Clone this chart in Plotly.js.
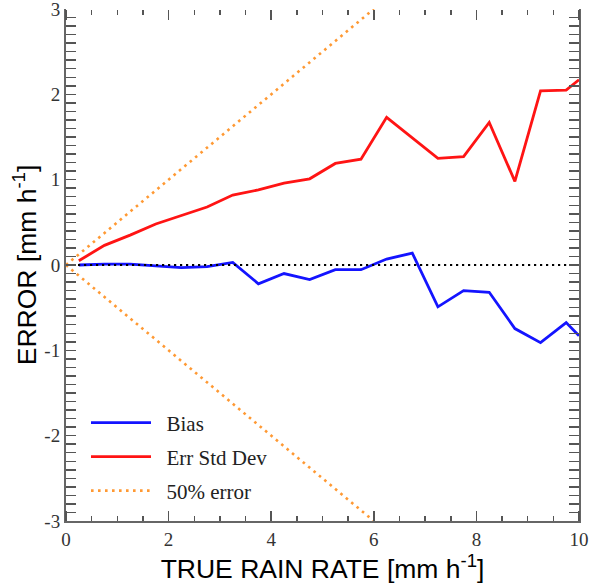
<!DOCTYPE html>
<html>
<head>
<meta charset="utf-8">
<script src="https://cdn.plot.ly/plotly-3.0.1.min.js"></script>
<style>html,body{margin:0;padding:0;background:#fff;}#chart{width:596px;height:584px;}</style>
</head>
<body>
<div id="chart"></div>
<script>
// ---- data ----
const rainRate = [0.25, 0.75, 1.25, 1.75, 2.25, 2.75, 3.25, 3.75, 4.25, 4.75, 5.25, 5.75, 6.25, 6.75, 7.25, 7.75, 8.25, 8.75, 9.25, 9.75, 10.0];
const bias     = [0.00, 0.01, 0.01, -0.01, -0.03, -0.02, 0.03, -0.22, -0.10, -0.17, -0.055, -0.055, 0.07, 0.14, -0.49, -0.30, -0.32, -0.745, -0.91, -0.675, -0.83];
const errStd   = [0.05, 0.23, 0.35, 0.48, 0.58, 0.68, 0.82, 0.88, 0.96, 1.01, 1.19, 1.24, 1.73, 1.49, 1.25, 1.27, 1.67, 0.98, 2.04, 2.05, 2.17];
const halfErrX = [0, 6, null, 0, 6];
const halfErrY = [0, 3, null, 0, -3];
const zeroX = [0, 10];
const zeroY = [0, 0];
const yTickVals = [-3, -2, -1, 0, 1, 2, 3];
const yTickText = ['-3', '-2', '-1', '0', '1', '2', '3'];
const seriesNames = ['Bias', 'Err Std Dev', '50% error'];

// ---- layout helpers ----
const W = 596, H = 584;
const M = {l: 66, r: 17, t: 9, b: 63};
const pw = W - M.l - M.r, ph = H - M.t - M.b;
const px2x = p => (p - M.l) / pw;
const py2y = p => 1 - (p - M.t) / ph;
const pad = '\u00a0\u00a0';

const legFont = {family: '"Liberation Serif", "Times New Roman", serif', size: 21, color: '#222'};
function leg(xp, yp) {
  return {x: px2x(xp), y: py2y(yp), xanchor: 'left', yanchor: 'middle', bgcolor: 'rgba(0,0,0,0)',
          borderwidth: 0, font: legFont, itemwidth: 60};
}

const traces = [
  {x: rainRate, y: bias, name: pad + seriesNames[0], mode: 'lines', line: {color: '#1414ff', width: 2.8}, legend: 'legend'},
  {x: rainRate, y: errStd, name: pad + seriesNames[1], mode: 'lines', line: {color: '#ff1414', width: 2.8}, legend: 'legend2'},
  {x: halfErrX, y: halfErrY, xaxis: 'x3', name: pad + seriesNames[2], mode: 'lines', line: {color: '#ff9933', width: 2.6, dash: '2.6px,4.4px'}, legend: 'legend3', connectgaps: false},
  {x: zeroX, y: zeroY, xaxis: 'x2', name: 'zero', mode: 'lines', line: {color: '#000', width: 2.2, dash: '2.2px,3.8px'}, showlegend: false, hoverinfo: 'skip'}
];

const tickFont = {family: '"Liberation Serif", "Times New Roman", serif', size: 19, color: '#333'};
const titleFont = {family: '"Liberation Sans", Arial, sans-serif', size: 26.5, color: '#000'};
const xMinor = {dtick: 0.5, ticks: 'outside', ticklen: 5, tickwidth: 1.5, tickcolor: '#555'};
const tickAxis = (side, pos) => ({
  overlaying: 'x', matches: 'x', side: side, anchor: 'free', position: pos,
  tickmode: 'linear', tick0: 0, dtick: 2,
  ticks: 'outside', ticklen: 10, tickwidth: 1.5, tickcolor: '#555',
  minor: xMinor, showticklabels: false,
  showline: false, showgrid: false, zeroline: false
});

const layout = {
  width: W, height: H,
  margin: M,
  paper_bgcolor: '#fff', plot_bgcolor: '#fff',
  showlegend: true,
  legend: leg(86, 423),
  legend2: leg(86, 457),
  legend3: leg(86, 491),
  xaxis: {
    range: [0, 10], tickmode: 'linear', tick0: 0, dtick: 2,
    ticks: '', showline: true, linecolor: '#666', linewidth: 2,
    showgrid: false, zeroline: false, tickfont: tickFont,
    title: {text: 'TRUE RAIN RATE [mm h<sup>-1</sup>]', font: titleFont, standoff: 6}
  },
  // tick-only axes: bottom-edge ticks pointing up, top-edge ticks pointing down
  xaxis2: tickAxis('top', 0),
  xaxis3: tickAxis('bottom', 1),
  yaxis: {
    range: [-3, 3], tickmode: 'array', tickvals: yTickVals, ticktext: yTickText,
    ticks: 'inside', ticklen: 10, tickwidth: 1.5, tickcolor: '#555',
    minor: {tickmode: 'linear', tick0: 0, dtick: 0.1, ticks: 'inside', ticklen: 5, tickwidth: 1.5, tickcolor: '#555', showgrid: false},
    showline: true, linecolor: '#666', linewidth: 2, mirror: 'allticks',
    showgrid: false, zeroline: false, tickfont: tickFont, ticklabeloverflow: 'allow',
    title: {text: 'ERROR [mm h<sup>-1</sup>]', font: titleFont, standoff: 0}
  }
};

Plotly.newPlot('chart', traces, layout, {displayModeBar: false, staticPlot: true});
</script>
</body>
</html>
